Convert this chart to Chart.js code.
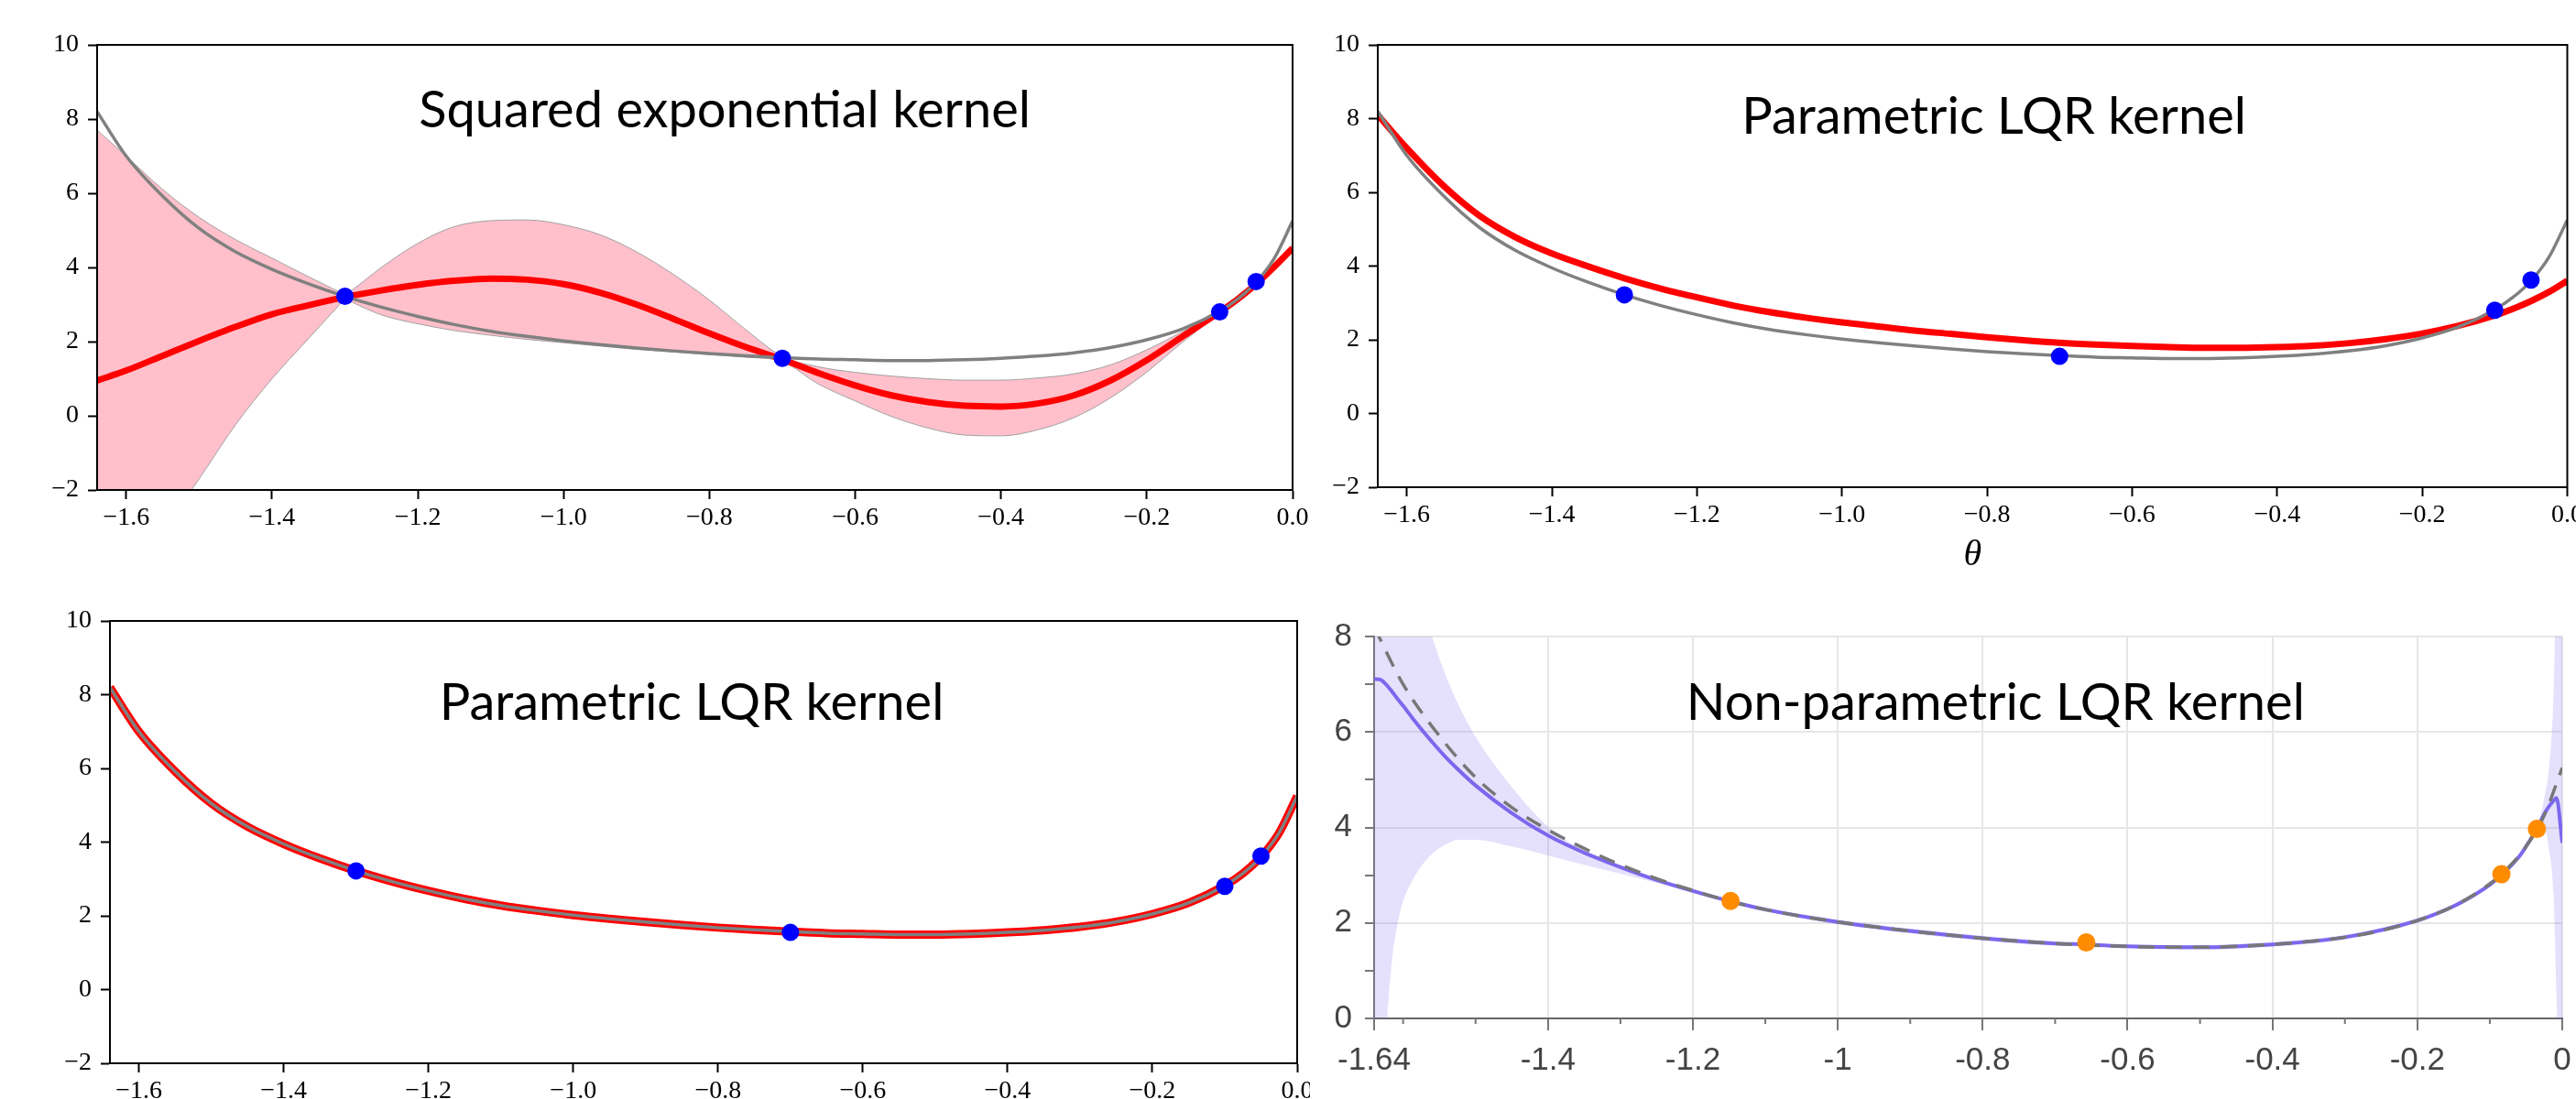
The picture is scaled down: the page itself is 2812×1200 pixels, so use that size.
<!DOCTYPE html>
<html>
<head>
<meta charset="UTF-8">
<title>GP kernels on LQR cost</title>
<script src="https://cdn.jsdelivr.net/npm/chart.js@4.4.1/dist/chart.umd.min.js"></script>
<style>
  body { margin: 0; background: #fff; width: 2812px; height: 1200px; position: relative; overflow: hidden; }
  canvas { position: absolute; }
</style>
</head>
<body>

<canvas id="se" width="1430" height="600" style="left:0px;top:0px"></canvas>
<canvas id="lqrTop" width="1382" height="650" style="left:1430px;top:0px"></canvas>
<canvas id="lqrBottom" width="1430" height="600" style="left:0px;top:600px"></canvas>
<canvas id="nonpar" width="1382" height="550" style="left:1430px;top:650px"></canvas>

<script>
// theta grid shared by the three matplotlib panels
var theta = [-1.64, -1.6, -1.55, -1.5, -1.45, -1.4, -1.35, -1.3, -1.25, -1.2,
             -1.15, -1.1, -1.05, -1.0, -0.95, -0.9, -0.85, -0.8, -0.75, -0.7,
             -0.65, -0.6, -0.55, -0.5, -0.45, -0.4, -0.35, -0.3, -0.25, -0.2,
             -0.15, -0.1, -0.075, -0.05, -0.025, 0];

// true cost (grey line, dashed in last panel)
var trueCost = [8.2, 7.0, 5.92, 5.05, 4.42, 3.95, 3.56, 3.22, 2.93, 2.68,
                2.46, 2.28, 2.14, 2.02, 1.92, 1.83, 1.75, 1.68, 1.62, 1.57,
                1.53, 1.51, 1.49, 1.49, 1.51, 1.55, 1.61, 1.70, 1.84, 2.05,
                2.35, 2.82, 3.15, 3.6, 4.25, 5.25];

// squared exponential kernel: mean on theta, band on a grid with extra points at the pinch
var seMean = [0.95, 1.22, 1.62, 2.02, 2.4, 2.74, 2.98, 3.2, 3.38, 3.53,
              3.64, 3.70, 3.67, 3.55, 3.32, 3.0, 2.62, 2.22, 1.85, 1.52,
              1.15, 0.82, 0.55, 0.37, 0.27, 0.25, 0.33, 0.55, 0.95, 1.5,
              2.15, 2.8, 3.15, 3.55, 4.02, 4.52];
var thetaBand = [-1.64, -1.6, -1.55, -1.5, -1.45, -1.4, -1.35, -1.31, -1.3, -1.29, -1.25, -1.2,
                 -1.15, -1.1, -1.05, -1.0, -0.95, -0.9, -0.85, -0.8, -0.75, -0.7,
                 -0.65, -0.6, -0.55, -0.5, -0.45, -0.4, -0.35, -0.3, -0.25, -0.2,
                 -0.15, -0.1, -0.075, -0.05, -0.025, 0];
var seUpper = [7.7, 7.0, 6.1, 5.35, 4.75, 4.25, 3.75, 3.36, 3.25, 3.39, 4.0, 4.65,
               5.1, 5.26, 5.28, 5.15, 4.88, 4.42, 3.82, 3.12, 2.32, 1.6,
               1.32, 1.17, 1.07, 1.0, 0.96, 0.96, 1.02, 1.13, 1.37, 1.78,
               2.28, 2.84, 3.22, 3.62, 4.1, 4.62];
var seLower = [-6.0, -4.7, -3.1, -1.7, -0.24, 1.0, 2.08, 2.94, 3.15, 3.06, 2.72, 2.48,
               2.3, 2.17, 2.06, 1.97, 1.88, 1.79, 1.72, 1.65, 1.58, 1.46,
               0.85, 0.4, -0.02, -0.33, -0.52, -0.54, -0.38, -0.05, 0.48, 1.18,
               2.0, 2.76, 3.08, 3.48, 3.94, 4.42];

// parametric LQR kernel, top right panel (bottom left panel sits on trueCost)
var lqrMean = [8.1, 7.2, 6.19, 5.37, 4.78, 4.34, 3.99, 3.67, 3.39, 3.15,
               2.93, 2.75, 2.6, 2.47, 2.36, 2.25, 2.16, 2.07, 1.99, 1.92,
               1.87, 1.83, 1.8, 1.78, 1.78, 1.8, 1.84, 1.91, 2.02, 2.17,
               2.38, 2.66, 2.84, 3.05, 3.3, 3.6];

var obsX = [-1.3, -0.7, -0.1, -0.05];
var obsY = [3.22, 1.55, 2.8, 3.62];

// non-parametric LQR kernel
var theta4 = [-1.64, -1.632, -1.625, -1.615, -1.607, -1.6, -1.586, -1.565, -1.544, -1.523,
              -1.5, -1.45, -1.4, -1.35, -1.3, -1.25, -1.2, -1.15, -1.1, -1.0,
              -0.9, -0.8, -0.7, -0.657, -0.6, -0.5, -0.4, -0.3, -0.2, -0.15,
              -0.12, -0.1, -0.084, -0.06, -0.05, -0.035, -0.025, -0.018, -0.012, -0.008, 0];
var npMean = [7.11, 7.1, 7.02, 6.84, 6.68, 6.55, 6.27, 5.88, 5.52, 5.2,
              4.88, 4.3, 3.83, 3.47, 3.17, 2.9, 2.67, 2.46, 2.28, 2.02,
              1.83, 1.68, 1.57, 1.55, 1.51, 1.49, 1.55, 1.70, 2.05, 2.35,
              2.6, 2.8, 3.0, 3.38, 3.6, 3.97, 4.28, 4.45, 4.56, 4.62, 3.68];
var npUpper = [16, 15, 14, 12.5, 11.5, 10.7, 9.5, 8.25, 7.3, 6.55,
               5.9, 4.85, 4.02, 3.5, 3.13, 2.9, 2.72, 2.49, 2.32, 2.07,
               1.88, 1.73, 1.61, 1.57, 1.55, 1.54, 1.6, 1.75, 2.1, 2.4,
               2.64, 2.83, 3.02, 3.42, 3.64, 4.0, 4.6, 5.3, 6.8, 9.5, 14];
var npLower = [-3, -2, -0.6, 1.26, 2.03, 2.45, 2.92, 3.37, 3.62, 3.74,
               3.74, 3.6, 3.41, 3.22, 3.03, 2.84, 2.63, 2.44, 2.24, 1.97,
               1.78, 1.63, 1.53, 1.53, 1.47, 1.44, 1.5, 1.65, 2.0, 2.3,
               2.56, 2.77, 2.98, 3.34, 3.56, 3.94, 4.0, 3.5, 2.6, 0.5, -5];
var npObsX = [-1.148, -0.657, -0.084, -0.035];
var npObsY = [2.46, 1.59, 3.02, 3.97];

// tick values
var xTicks = [-1.6, -1.4, -1.2, -1.0, -0.8, -0.6, -0.4, -0.2, 0];
var yTicks = [-2, 0, 2, 4, 6, 8, 10];
var xTicks4 = [-1.64, -1.4, -1.2, -1, -0.8, -0.6, -0.4, -0.2, 0];
var xMinor4 = [-1.6, -1.5, -1.3, -1.1, -0.9, -0.7, -0.5, -0.3, -0.1];
var yTicks4 = [0, 1, 2, 3, 4, 5, 6, 7, 8];

function pts(xs, ys) {
  return xs.map(function (x, i) { return { x: x, y: ys[i] }; });
}

// title written inside the plot area
var innerTitle = {
  id: 'innerTitle',
  afterDatasetsDraw: function (chart, args, opts) {
    var a = chart.chartArea, ctx = chart.ctx;
    ctx.save();
    ctx.font = '56px Lato';
    ctx.fillStyle = '#000';
    ctx.textAlign = 'center';
    ctx.textBaseline = 'alphabetic';
    ctx.fillText(opts.text, a.left + opts.fx * (a.right - a.left), a.top + opts.fy * (a.bottom - a.top));
    ctx.restore();
  }
};

// full box around matplotlib axes
var frame = {
  id: 'frame',
  afterDraw: function (chart) {
    var a = chart.chartArea, ctx = chart.ctx;
    ctx.save();
    ctx.strokeStyle = '#000';
    ctx.lineWidth = 2;
    ctx.strokeRect(a.left, a.top, a.right - a.left, a.bottom - a.top);
    ctx.restore();
  }
};

// short minor ticks under the last panel
var minorTicks = {
  id: 'minorTicks',
  afterDraw: function (chart) {
    var x = chart.scales.x, y0 = chart.chartArea.bottom, ctx = chart.ctx;
    ctx.save();
    ctx.strokeStyle = '#777';
    ctx.lineWidth = 2;
    ctx.beginPath();
    xMinor4.forEach(function (v) {
      var px = x.getPixelForValue(v);
      ctx.moveTo(px, y0);
      ctx.lineTo(px, y0 + 6);
    });
    ctx.stroke();
    ctx.restore();
  }
};

var serif = { family: '"Liberation Serif", "Times New Roman", serif', size: 28 };

function fmtX(v) { return v === 0 ? '0.0' : '\u2212' + Math.abs(v).toFixed(1); }
function fmtY(v) { return v < 0 ? '\u2212' + Math.abs(v) : String(v); }

function mplScales(yWidth, xHeight, xTitle) {
  return {
    x: {
      type: 'linear', min: -1.64, max: 0,
      afterBuildTicks: function (s) { s.ticks = xTicks.map(function (v) { return { value: v }; }); },
      afterFit: function (s) { s.height = xHeight; s.paddingLeft = 0; s.paddingRight = 0; },
      ticks: { autoSkip: false, maxRotation: 0, padding: 4, color: '#000', font: serif, callback: fmtX },
      grid: { drawOnChartArea: false, tickLength: 10, tickColor: '#000', tickWidth: 2 },
      border: { color: '#000', width: 2 },
      title: xTitle ? { display: true, text: xTitle, color: '#000',
                        font: { family: '"Liberation Serif", serif', size: 40, style: 'italic' },
                        padding: { top: 0, bottom: 20 } } : { display: false }
    },
    y: {
      type: 'linear', min: -2, max: 10,
      afterBuildTicks: function (s) { s.ticks = yTicks.map(function (v) { return { value: v }; }); },
      afterFit: function (s) { s.width = yWidth; s.paddingTop = 0; s.paddingBottom = 0; },
      ticks: { autoSkip: false, padding: 10, color: '#000', font: serif, callback: fmtY },
      grid: { drawOnChartArea: false, tickLength: 10, tickColor: '#000', tickWidth: 2 },
      border: { color: '#000', width: 2 }
    }
  };
}

var common = {
  responsive: false,
  animation: false,
  events: [],
  elements: { point: { radius: 0 }, line: { cubicInterpolationMode: 'monotone' } }
};

function opts(extra) { return Object.assign({}, common, extra); }

function dots(xs, ys, color, r) {
  return { data: pts(xs, ys), showLine: false, pointRadius: r, pointBackgroundColor: color,
           pointBorderColor: color, pointBorderWidth: 0, order: 0 };
}
function line(xs, ys, color, w, order) {
  return { data: pts(xs, ys), showLine: true, borderColor: color, borderWidth: w, fill: false, order: order };
}

// top left: squared exponential kernel
var upperSE = line(thetaBand, seUpper, '#a0a0a0', 1, 4);
upperSE.fill = '+1';
upperSE.backgroundColor = '#ffc0cb';
new Chart(document.getElementById('se'), {
  type: 'scatter',
  data: { datasets: [
    dots(obsX, obsY, '#0000ff', 9.5),
    line(theta, trueCost, '#808080', 3.5, 1),
    line(theta, seMean, '#ff0000', 7, 2),
    upperSE,
    line(thetaBand, seLower, '#a0a0a0', 1, 3)
  ] },
  options: opts({
    layout: { padding: { left: 0, top: 49, right: 19, bottom: 0 } },
    scales: mplScales(106, 65),
    plugins: { legend: { display: false }, tooltip: { enabled: false },
               innerTitle: { text: 'Squared exponential kernel', fx: 0.525, fy: 0.185 } }
  }),
  plugins: [frame, innerTitle]
});

// top right: parametric LQR kernel
new Chart(document.getElementById('lqrTop'), {
  type: 'scatter',
  data: { datasets: [
    dots(obsX, obsY, '#0000ff', 9.5),
    line(theta, trueCost, '#808080', 3.5, 1),
    line(theta, lqrMean, '#ff0000', 7, 2)
  ] },
  options: opts({
    layout: { padding: { left: 0, top: 49, right: 4, bottom: 0 } },
    scales: mplScales(74, 118, '\u03b8'),
    plugins: { legend: { display: false }, tooltip: { enabled: false },
               innerTitle: { text: 'Parametric LQR kernel', fx: 0.518, fy: 0.2 } }
  }),
  plugins: [frame, innerTitle]
});

// bottom left: parametric LQR kernel, fit lies on the true cost
new Chart(document.getElementById('lqrBottom'), {
  type: 'scatter',
  data: { datasets: [
    dots(obsX, obsY, '#0000ff', 9.5),
    line(theta, trueCost, '#808080', 3.5, 1),
    line(theta, trueCost, '#ff0000', 9, 2)
  ] },
  options: opts({
    layout: { padding: { left: 0, top: 78, right: 14, bottom: 0 } },
    scales: mplScales(120, 39),
    plugins: { legend: { display: false }, tooltip: { enabled: false },
               innerTitle: { text: 'Parametric LQR kernel', fx: 0.49, fy: 0.224 } }
  }),
  plugins: [frame, innerTitle]
});

// bottom right: non-parametric LQR kernel
var sans = { family: '"Liberation Sans", Arial, sans-serif', size: 35 };
var upperNP = line(theta4, npUpper, 'rgba(0,0,0,0)', 1, 4);
upperNP.fill = '+1';
upperNP.backgroundColor = 'rgba(123,104,238,0.2)';
var dashed = line(theta, trueCost, '#777777', 3.5, 1);
dashed.borderDash = [18, 12];
new Chart(document.getElementById('nonpar'), {
  type: 'scatter',
  data: { datasets: [
    dots(npObsX, npObsY, '#ff8c00', 10),
    dashed,
    line(theta4, npMean, '#7b68ee', 4, 2),
    upperNP,
    line(theta4, npLower, 'rgba(0,0,0,0)', 1, 3)
  ] },
  options: opts({
    layout: { padding: { left: 0, top: 45, right: 15, bottom: 0 } },
    scales: {
      x: {
        type: 'linear', min: -1.64, max: 0,
        afterBuildTicks: function (s) { s.ticks = xTicks4.map(function (v) { return { value: v }; }); },
        afterFit: function (s) { s.height = 88; s.paddingLeft = 0; s.paddingRight = 0; },
        ticks: { autoSkip: false, maxRotation: 0, padding: 12, color: '#444', font: sans,
                 callback: function (v) { return String(v); } },
        grid: { color: function (c) { return c.tick && c.tick.value === -1.64 ? 'rgba(0,0,0,0)' : '#e6e6e6'; },
                lineWidth: 2, tickLength: 13, tickColor: '#777', tickWidth: 2 },
        border: { color: '#666', width: 2 }
      },
      y: {
        type: 'linear', min: 0, max: 8,
        afterBuildTicks: function (s) { s.ticks = yTicks4.map(function (v) { return { value: v }; }); },
        afterFit: function (s) { s.width = 70; s.paddingTop = 0; s.paddingBottom = 0; },
        ticks: { autoSkip: false, padding: 14, color: '#444', font: sans,
                 callback: function (v) { return v % 2 === 0 ? String(v) : ''; } },
        grid: { color: function (c) { return c.tick && c.tick.value % 2 === 0 && c.tick.value > 0 ? '#e6e6e6' : 'rgba(0,0,0,0)'; },
                lineWidth: 2, tickLength: 10, tickColor: '#777', tickWidth: 2 },
        border: { color: '#777', width: 2 }
      }
    },
    plugins: { legend: { display: false }, tooltip: { enabled: false },
               innerTitle: { text: 'Non-parametric LQR kernel', fx: 0.523, fy: 0.218 } }
  }),
  plugins: [minorTicks, innerTitle]
});
</script>

</body>
</html>
